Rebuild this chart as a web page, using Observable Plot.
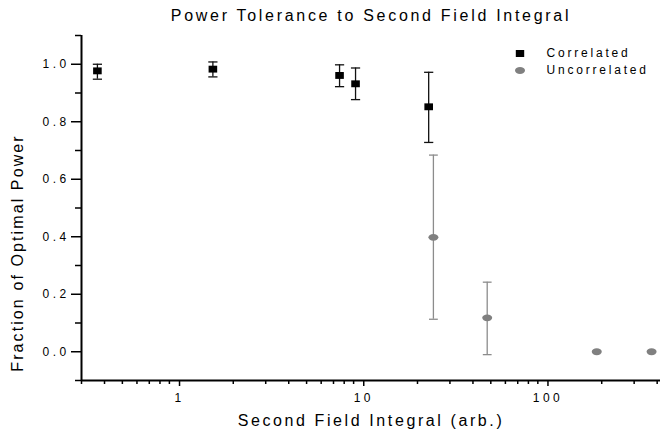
<!DOCTYPE html>
<html><head><meta charset="utf-8">
<script src="https://cdn.jsdelivr.net/npm/d3@7"></script>
<script src="https://cdn.jsdelivr.net/npm/@observablehq/plot@0.6"></script>
<style>
body{margin:0;background:#fff;}
#wrap{position:relative;width:660px;height:432px;font-family:"Liberation Sans",Arial,sans-serif;color:#000;overflow:hidden;}
.lbl{position:absolute;white-space:nowrap;font-size:16px;line-height:18px;}
#legend{position:absolute;left:514px;top:44.7px;font-size:12px;letter-spacing:2.8px;line-height:17.2px;}
#legend .row{display:flex;align-items:center;height:17.2px;}
#legend .row span{margin-left:20.5px;}
</style></head><body>
<div id="wrap">
<div class="lbl" id="title" style="left:82px;width:578px;top:7.2px;text-align:center;letter-spacing:2.7px;">Power Tolerance to Second Field Integral</div>
<div class="lbl" id="xlabel" style="left:82px;width:578px;top:412px;text-align:center;letter-spacing:2.6px;">Second Field Integral (arb.)</div>
<div class="lbl" id="ylabel" style="left:-132px;top:243.5px;width:300px;height:18px;text-align:center;letter-spacing:2.1px;transform:rotate(-90deg);transform-origin:50% 50%;">Fraction of Optimal Power</div>
<div id="chart"></div>
<div id="legend"></div>
</div>
<script>
// ---- data ----
const seriesNames = ["Correlated", "Uncorrelated"];
const corrX  = [0.366, 1.55, 7.55, 9.22, 23.0];
const corrY  = [0.977, 0.983, 0.961, 0.932, 0.852];
const corrLo = [0.948, 0.956, 0.922, 0.877, 0.728];
const corrHi = [1.000, 1.008, 0.998, 0.987, 0.972];
const uncX  = [24.4, 47.8, 188, 373];
const uncY  = [0.398, 0.118, 0.0, 0.0];
const uncLo = [0.113, -0.010, null, null];
const uncHi = [0.684, 0.242, null, null];
const xMajorTicks = [1, 10, 100];
const xMinorTicks = [0.3,0.4,0.5,0.6,0.7,0.8,0.9,2,3,4,5,6,7,8,9,20,30,40,50,60,70,80,90,200,300,400];
const yMajorTicks = [0, 0.2, 0.4, 0.6, 0.8, 1.0];
const yMinorTicks = [-0.1, 0.1, 0.3, 0.5, 0.7, 0.9, 1.1];

const corr = corrX.map((x, i) => ({x, y: corrY[i], lo: corrLo[i], hi: corrHi[i]}));
const unc = uncX.map((x, i) => ({x, y: uncY[i], lo: uncLo[i], hi: uncHi[i]}));
const uncErr = unc.filter(d => d.lo != null);

// custom symbols
const capSym = {draw(ctx, size){ const r = Math.sqrt(size / Math.PI); ctx.moveTo(-r, 0); ctx.lineTo(r, 0); }};
const rectSym = {draw(ctx, size){ const r = Math.sqrt(size / Math.PI); ctx.rect(-r, -r*0.8, 2*r, 1.6*r); }};
const ellSym = {draw(ctx, size){
  const r = Math.sqrt(size / Math.PI), rx = r, ry = r*0.68, k = 0.5523;
  ctx.moveTo(rx, 0);
  ctx.bezierCurveTo(rx, ry*k, rx*k, ry, 0, ry);
  ctx.bezierCurveTo(-rx*k, ry, -rx, ry*k, -rx, 0);
  ctx.bezierCurveTo(-rx, -ry*k, -rx*k, -ry, 0, -ry);
  ctx.bezierCurveTo(rx*k, -ry, rx, -ry*k, rx, 0);
  ctx.closePath();
}};

const black = "#111", gray = "#808080", grayBar = "#8c8c8c";

const chart = Plot.plot({
  width: 660, height: 432,
  marginLeft: 81, marginRight: 0, marginTop: 35, marginBottom: 52,
  x: {type: "log", domain: [0.3, 417], label: null},
  y: {domain: [-0.1, 1.1], label: null},
  style: {fontFamily: "'Liberation Sans', Arial, sans-serif", fontSize: "12px", letterSpacing: "3.4px", background: "transparent", overflow: "visible"},
  marks: [
    // axes
    Plot.axisY(yMinorTicks, {tickSize: 6, tickFormat: () => "", strokeWidth: 1.5, label: null}),
    Plot.axisY(yMajorTicks, {tickSize: 10, tickPadding: 2, tickFormat: d3.format(".1f"), strokeWidth: 1.5, label: null}),
    Plot.axisX(xMinorTicks, {tickSize: 4, tickFormat: () => "", strokeWidth: 1.5, label: null}),
    Plot.axisX(xMajorTicks, {tickSize: 6, tickPadding: 7, tickFormat: d => String(d), strokeWidth: 1.5, dx: 1.7, label: null}),
    Plot.ruleX([0.3], {stroke: "#000", strokeWidth: 2}),
    Plot.ruleY([-0.1], {stroke: "#000", strokeWidth: 2}),
    // uncorrelated
    Plot.ruleX(uncErr, {x: "x", y1: "lo", y2: "hi", stroke: grayBar, strokeWidth: 1.3}),
    Plot.dot(uncErr, {x: "x", y: "lo", symbol: capSym, r: 4.4, stroke: grayBar, fill: "none", strokeWidth: 1.3}),
    Plot.dot(uncErr, {x: "x", y: "hi", symbol: capSym, r: 4.4, stroke: grayBar, fill: "none", strokeWidth: 1.3}),
    Plot.dot(unc, {x: "x", y: "y", symbol: ellSym, r: 5, fill: gray, stroke: "none"}),
    // correlated
    Plot.ruleX(corr, {x: "x", y1: "lo", y2: "hi", stroke: black, strokeWidth: 1.3}),
    Plot.dot(corr, {x: "x", y: "lo", symbol: capSym, r: 4.6, stroke: black, fill: "none", strokeWidth: 1.3}),
    Plot.dot(corr, {x: "x", y: "hi", symbol: capSym, r: 4.6, stroke: black, fill: "none", strokeWidth: 1.3}),
    Plot.dot(corr, {x: "x", y: "y", symbol: rectSym, r: 4.3, fill: "#000", stroke: "none"})
  ]
});
document.getElementById("chart").appendChild(chart);

// legend
const legend = document.getElementById("legend");
const legendSyms = [
  '<svg width="12" height="17" viewBox="-6 -8.5 12 17"><rect x="-4.2" y="-3.5" width="8.4" height="7" fill="#000"/></svg>',
  '<svg width="12" height="17" viewBox="-6 -8.5 12 17"><ellipse cx="0" cy="0" rx="5" ry="3.4" fill="' + gray + '"/></svg>'
];
seriesNames.forEach((name, i) => {
  const row = document.createElement("div");
  row.className = "row";
  row.innerHTML = legendSyms[i] + "<span>" + name + "</span>";
  legend.appendChild(row);
});
</script>
</body></html>
